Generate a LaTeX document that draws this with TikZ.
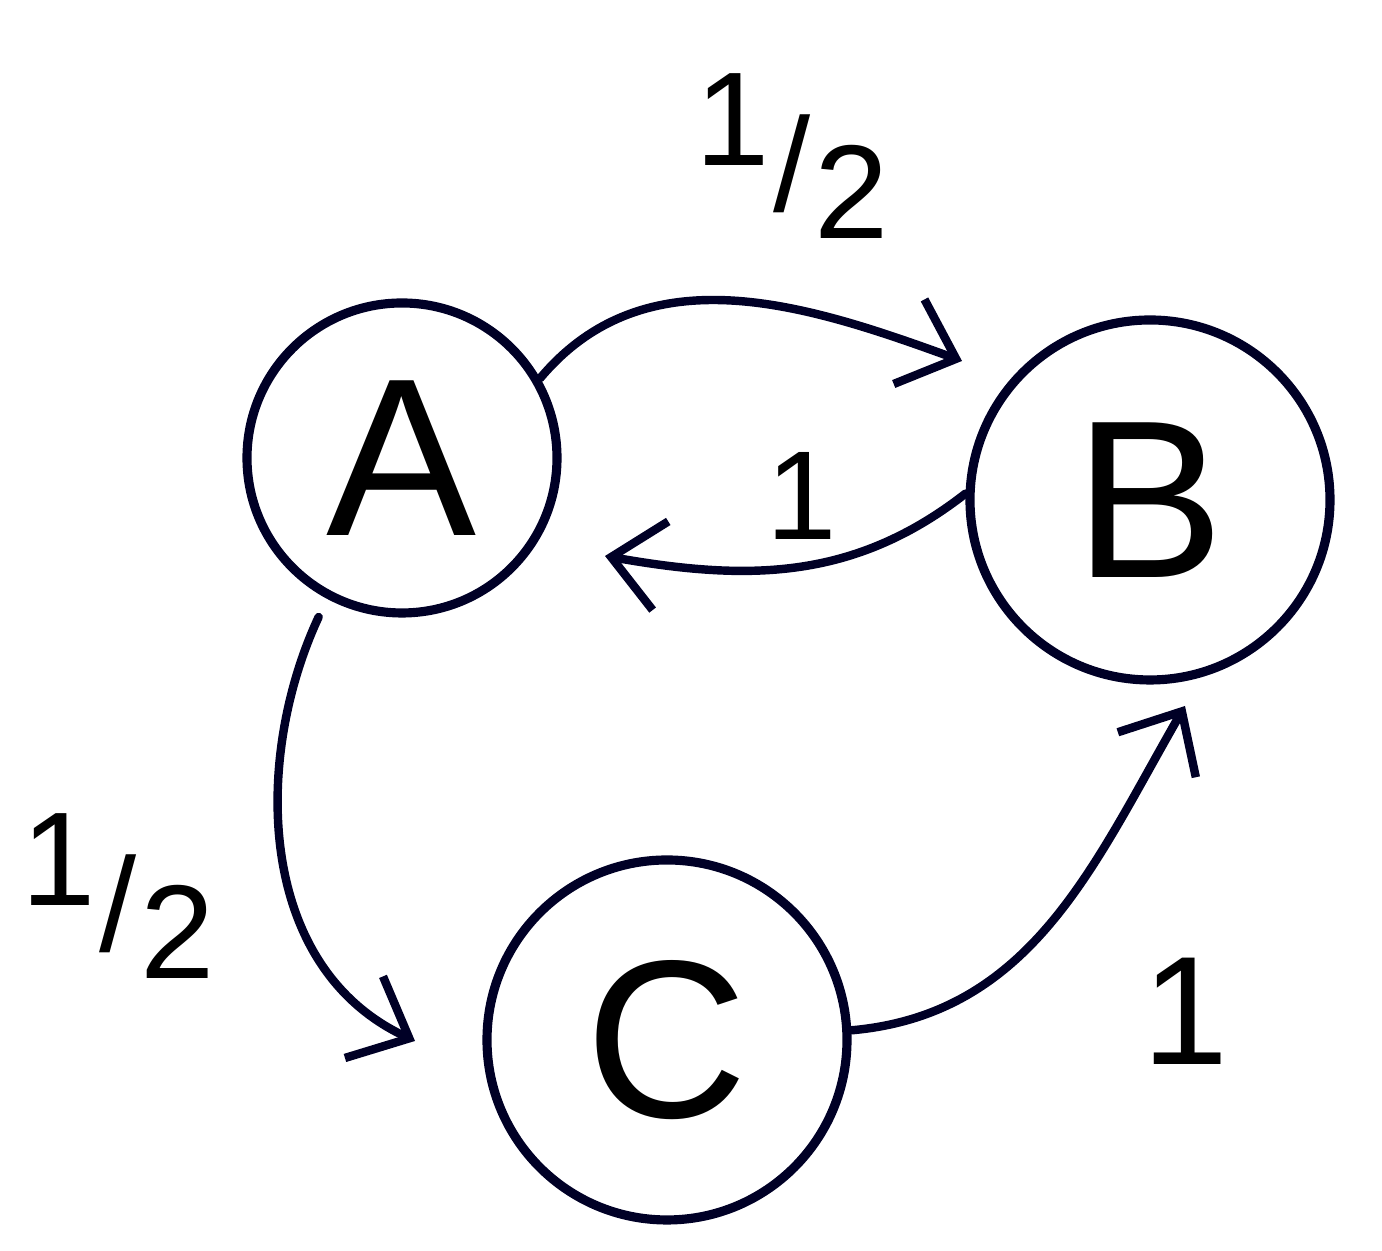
\documentclass[tikz,border=0pt]{standalone}
\usepackage{fontspec}
\setmainfont{Liberation Sans}
\usetikzlibrary{arrows.meta}
\begin{document}
\begin{tikzpicture}[
  state/.style={circle, draw=black!85!blue, line width=2.6pt, minimum size=#1, inner sep=0pt, font=\fontsize{64}{66}\selectfont},
  edge/.style={draw=black!85!blue, line width=2.4pt, line cap=round, -{Straight Barb[length=5mm,width=9mm,line width=2.4pt]}},
  lab/.style={inner sep=0pt, font=\fontsize{#1}{#1}\selectfont}
]
\useasboundingbox (0,0) rectangle (13.82,12.51);
\node[state=3.1cm] (A) at (4.02,7.93) {A};
\node[state=3.6cm] (B) at (11.50,7.51) {B};
\node[state=3.6cm] (C) at (6.67,2.11) {C};

\draw[edge] (A.30) to[out=50,in=160] (9.62,8.9);
\draw[edge] (B.178) to[out=218,in=-10] (6.05,6.95);
\draw[edge, shorten <=2mm] (A.-118) to[out=-115,in=155] (4.15,2.1);
\draw[edge] (C.3) to[out=5,in=-120] (11.85,5.45);

\node[lab=38] (l1) at (7.92,10.95) {\raisebox{0.35em}{1}\kern0.03em/\kern0.03em\raisebox{-0.2em}{2}};
\node[lab=36] (l2) at (8.02,7.55) {1};
\node[lab=38] (l3) at (1.18,3.55) {\raisebox{0.35em}{1}\kern0.03em/\kern0.03em\raisebox{-0.2em}{2}};
\node[lab=44] (l4) at (11.85,2.40) {1};
\end{tikzpicture}
\end{document}
